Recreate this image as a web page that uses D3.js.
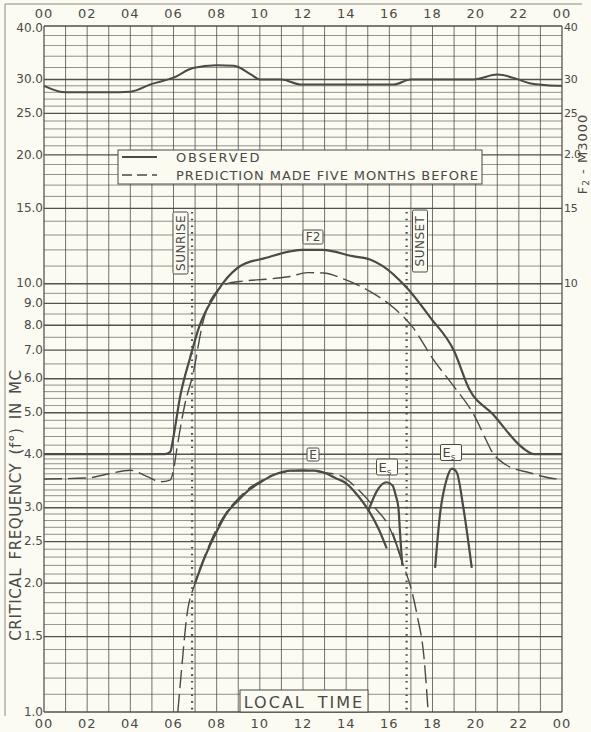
<!DOCTYPE html>
<html>
<head>
<meta charset="utf-8">
<script src="https://cdn.jsdelivr.net/npm/d3@7"></script>
<style>
  body { margin: 0; background: #fbfbf2; }
  svg { display: block; }
</style>
</head>
<body>
<div id="chart"></div>
<script>
// ---- data ----
const hourTicks  = [0, 2, 4, 6, 8, 10, 12, 14, 16, 18, 20, 22, 24];
const hourLabels = ["00","02","04","06","08","10","12","14","16","18","20","22","00"];

const leftTicks  = [40, 30, 25, 20, 15, 10, 9, 8, 7, 6, 5, 4, 3, 2.5, 2, 1.5, 1];
const leftLabels = ["40.0","30.0","25.0","20.0","15.0","10.0","9.0","8.0","7.0","6.0","5.0","4.0","3.0","2.5","2.0","1.5","1.0"];
const rightTicks  = [40, 30, 25, 20, 15, 10];
const rightLabels = ["40","30","25","2.0","15","10"];

// chart paper bands: [from, to, step]
const gridBands = [[1, 4, 0.1], [4, 6, 0.2], [6, 10, 0.5], [10, 30, 1], [30, 40, 2]];

const sunrise = 6.86, sunset = 16.8;

// F2-M3000, right axis units
const m3000Obs = [[0,2.90],[1,2.80],[2,2.80],[3,2.80],[4,2.81],[5,2.93],[6,3.03],[6.9,3.19],[8,3.24],[8.8,3.23],[9.6,3.08],[10,3.0],[11,3.0],[11.9,2.92],[13,2.92],[14,2.92],[16.2,2.92],[17,3.0],[18,3.0],[19.9,3.0],[21,3.08],[21.9,3.01],[22.5,2.94],[23.3,2.91],[24,2.90]];

// F2 critical frequency
const f2Obs = [[0,4.0],[5.6,4.0],[5.85,4.05],[6.0,4.4],[6.3,5.43],[6.77,6.72],[7.23,8.04],[7.85,9.28],[8.3,10.05],[9.08,10.99],[10.3,11.5],[11.4,11.9],[12.0,12.0],[12.9,12.0],[14.3,11.6],[15.1,11.4],[15.7,11.0],[16.8,9.8],[17.9,8.34],[19.0,6.97],[19.7,5.68],[20.8,4.96],[22.2,4.13],[22.7,4.0],[24,4.0]];
const f2Pred = [[0,3.5],[2,3.52],[3,3.6],[4,3.67],[4.76,3.55],[5.4,3.45],[5.84,3.48],[6.0,3.67],[6.15,4.1],[6.53,5.24],[6.9,6.15],[7.38,8.2],[7.69,9.1],[8.0,9.6],[8.46,10.0],[9.24,10.15],[10.3,10.25],[11.4,10.4],[12.2,10.62],[12.95,10.6],[13.9,10.25],[15.1,9.6],[16.2,8.79],[17.1,7.9],[18.0,6.7],[19.0,5.75],[19.9,4.96],[20.5,4.3],[20.7,4.1],[21.4,3.78],[22.5,3.62],[23.9,3.5],[24,3.5]];

// E layer
const eObs = [[7.0,2.0],[7.5,2.33],[8,2.64],[8.5,2.93],[9,3.12],[9.5,3.3],[10,3.43],[10.6,3.57],[11.5,3.66],[12.5,3.66],[13,3.62],[13.5,3.52],[14,3.42],[14.5,3.22],[15.03,2.96],[15.5,2.68],[15.88,2.41]];
const eObsLate = [[16.15,2.62],[16.57,2.27]];
const ePred = [[6.2,1.0],[6.4,1.3],[6.6,1.65],[7.0,2.0],[7.5,2.35],[8.0,2.68],[8.5,2.95],[9.0,3.15],[9.5,3.33],[10,3.45],[10.5,3.56],[11,3.62],[12,3.67],[13,3.62],[13.7,3.57],[14.5,3.33],[15.25,3.03],[16,2.7],[16.65,2.2],[17,1.95],[17.3,1.67],[17.6,1.35],[17.8,1.0]];

// sporadic E
const es1 = [[15.03,2.95],[15.42,3.28],[15.88,3.44],[16.15,3.38],[16.3,3.2],[16.42,3.0],[16.5,2.6],[16.6,2.2]];
const es2 = [[18.12,2.17],[18.35,2.9],[18.66,3.5],[18.9,3.7],[19.12,3.63],[19.43,3.0],[19.82,2.17]];

// ---- drawing ----
const W = 591, H = 732;
const ink = "#4a4a46", paper = "#fbfbf2";
const font = "'DejaVu Sans', sans-serif";

const svg = d3.select("#chart").append("svg")
  .attr("width", W).attr("height", H)
  .style("font-family", font)
  .style("background", paper);

const x = d3.scaleLinear().domain([0, 24]).range([44, 562]);
const y = d3.scaleLog().domain([1, 40]).range([712, 26]);

// page edge lines from the scan
svg.append("line").attr("x1", 5).attr("x2", 582).attr("y1", 4).attr("y2", 4)
  .attr("stroke", "#8a8a84").attr("stroke-width", 1);
svg.append("line").attr("x1", 5).attr("x2", 5).attr("y1", 4).attr("y2", 716)
  .attr("stroke", "#8a8a84").attr("stroke-width", 1);

// horizontal grid
const gridVals = [];
gridBands.forEach(([a, b, s]) => {
  for (let v = a; v < b - 1e-9; v += s) gridVals.push(+v.toFixed(2));
});
gridVals.push(40);

const grid = svg.append("g");
grid.selectAll(".hg").data(gridVals).enter().append("line")
  .attr("x1", x(0)).attr("x2", x(24))
  .attr("y1", d => y(d)).attr("y2", d => y(d))
  .attr("stroke", ink)
  .attr("stroke-width", d => leftTicks.includes(d) ? 1.4 : 0.8)
  .attr("opacity", d => leftTicks.includes(d) ? 0.95 : 0.75);

// vertical grid, every hour
grid.selectAll(".vg").data(d3.range(0, 25)).enter().append("line")
  .attr("x1", d => x(d)).attr("x2", d => x(d))
  .attr("y1", y(40)).attr("y2", y(1))
  .attr("stroke", ink)
  .attr("stroke-width", d => (d === 0 || d === 24) ? 1.4 : 0.9)
  .attr("opacity", 0.85);

// axis labels
const axes = svg.append("g").attr("fill", ink).style("font-size", "13px");
hourTicks.forEach((h, i) => {
  axes.append("text").attr("x", x(h)).attr("y", 18).attr("text-anchor", "middle")
    .style("letter-spacing", "1px").text(hourLabels[i]);
  axes.append("text").attr("x", x(h)).attr("y", 728).attr("text-anchor", "middle")
    .style("letter-spacing", "1px").text(hourLabels[i]);
});
leftTicks.forEach((v, i) => {
  axes.append("text").attr("x", 43).attr("y", y(v) + (v === 40 ? 2 : 0)).attr("dy", "0.3em")
    .attr("text-anchor", "end").style("font-size", "12px").text(leftLabels[i]);
});
rightTicks.forEach((v, i) => {
  axes.append("text").attr("x", 564).attr("y", y(v) + (v === 40 ? 2 : 0)).attr("dy", "0.3em")
    .style("font-size", "11px").style("letter-spacing", "-0.3px").text(rightLabels[i]);
});

// y axis titles
svg.append("text")
  .attr("transform", "translate(21,505) rotate(-90)")
  .attr("text-anchor", "middle")
  .attr("fill", ink)
  .style("font-size", "15px")
  .style("letter-spacing", "0.6px")
  .style("word-spacing", "3px")
  .text("CRITICAL FREQUENCY (f°) IN MC");

const rt = svg.append("text")
  .attr("transform", "translate(587,154) rotate(-90)")
  .attr("text-anchor", "middle")
  .attr("fill", ink)
  .style("font-size", "13px")
  .style("letter-spacing", "1px");
rt.append("tspan").text("F");
rt.append("tspan").attr("dy", 2).style("font-size", "9px").text("2");
rt.append("tspan").attr("dy", -2).text(" - M3000");

// sunrise / sunset dotted lines
[sunrise, sunset].forEach(h => {
  svg.append("line")
    .attr("x1", x(h)).attr("x2", x(h))
    .attr("y1", 212).attr("y2", y(1))
    .attr("stroke", ink).attr("stroke-width", 2.2)
    .attr("stroke-dasharray", "1.6,5.1");
});

// curves
const line = d3.line()
  .x(d => x(d[0]))
  .y(d => y(d[1]))
  .curve(d3.curveMonotoneX);
const line10 = d3.line()
  .x(d => x(d[0]))
  .y(d => y(d[1] * 10))
  .curve(d3.curveMonotoneX);

const curves = svg.append("g").attr("fill", "none").attr("stroke", ink);
curves.append("path").datum(m3000Obs).attr("d", line10).attr("stroke-width", 2);
curves.append("path").datum(f2Pred).attr("d", line).attr("stroke-width", 1.4).attr("stroke-dasharray", "18,6");
curves.append("path").datum(ePred).attr("d", line).attr("stroke-width", 1.4).attr("stroke-dasharray", "18,6");
curves.append("path").datum(f2Obs).attr("d", line).attr("stroke-width", 2.2);
curves.append("path").datum(eObs).attr("d", line).attr("stroke-width", 2.2);
curves.append("path").datum(eObsLate).attr("d", line).attr("stroke-width", 1.8);
curves.append("path").datum(es1).attr("d", line).attr("stroke-width", 2.2);
curves.append("path").datum(es2).attr("d", line).attr("stroke-width", 2.2);

// boxed labels
function boxLabel(cx, cy, w, h, rotate) {
  const g = svg.append("g").attr("transform", `translate(${cx},${cy})${rotate ? " rotate(-90)" : ""}`);
  g.append("rect").attr("x", -w / 2).attr("y", -h / 2).attr("width", w).attr("height", h)
    .attr("rx", 1.5).attr("fill", paper).attr("stroke", ink).attr("stroke-width", 1);
  return g.append("text").attr("text-anchor", "middle").attr("dy", "0.36em").attr("fill", ink);
}

boxLabel(180.5, 243, 62, 15, true).style("font-size", "12px").style("letter-spacing", "0.5px").text("SUNRISE");
boxLabel(420, 241, 62, 15, true).style("font-size", "12px").style("letter-spacing", "0.5px").text("SUNSET");
boxLabel(313, 237, 20, 14).style("font-size", "12px").text("F2");
boxLabel(313, 454.5, 12, 13).style("font-size", "12px").text("E");
[[387, 467], [451, 452.5]].forEach(([cx, cy]) => {
  const t = boxLabel(cx, cy, 21, 16).style("font-size", "13px").attr("dx", -2);
  t.append("tspan").text("E");
  t.append("tspan").attr("dy", 3).style("font-size", "9px").text("s");
});

// legend
const lg = svg.append("g");
lg.append("rect").attr("x", 118).attr("y", 150).attr("width", 364).attr("height", 34)
  .attr("fill", paper).attr("stroke", ink).attr("stroke-width", 1);
lg.append("line").attr("x1", 122).attr("x2", 157).attr("y1", 157).attr("y2", 157)
  .attr("stroke", ink).attr("stroke-width", 2.2);
lg.append("line").attr("x1", 122).attr("x2", 157).attr("y1", 175).attr("y2", 175)
  .attr("stroke", ink).attr("stroke-width", 1.6).attr("stroke-dasharray", "10,5");
lg.append("text").attr("x", 176).attr("y", 161.5).attr("fill", ink)
  .style("font-size", "13px").style("letter-spacing", "1.8px").text("OBSERVED");
lg.append("text").attr("x", 176).attr("y", 179.5).attr("fill", ink)
  .style("font-size", "13px").style("letter-spacing", "0.9px").text("PREDICTION MADE FIVE MONTHS BEFORE");

// local time box
const lt = svg.append("g");
lt.append("rect").attr("x", 240).attr("y", 690).attr("width", 128).attr("height", 22)
  .attr("fill", paper).attr("stroke", ink).attr("stroke-width", 1);
lt.append("text").attr("x", 304).attr("y", 707.5).attr("text-anchor", "middle").attr("fill", ink)
  .style("font-size", "16px").style("letter-spacing", "2px").style("word-spacing", "5px")
  .text("LOCAL TIME");
</script>
</body>
</html>
